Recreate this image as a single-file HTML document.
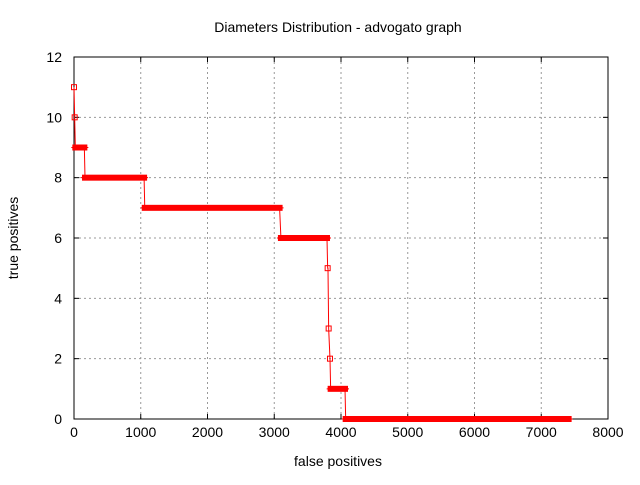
<!DOCTYPE html>
<html><head><meta charset="utf-8"><style>
body{margin:0;background:#fff}
svg text{font-family:"Liberation Sans",sans-serif;font-size:14px;fill:#000}
</style></head><body>
<svg id="c" width="640" height="480" xmlns="http://www.w3.org/2000/svg">
<rect width="640" height="480" fill="#fff"/>
<text x="338" y="32" text-anchor="middle">Diameters Distribution - advogato graph</text>
<text x="338" y="466" text-anchor="middle">false positives</text>
<text transform="translate(18,238) rotate(-90)" text-anchor="middle">true positives</text>
<g id="grid"></g><g id="axes"></g><g id="series"></g>
</svg>
<script>
const xTicks=[0,1000,2000,3000,4000,5000,6000,7000,8000];
const yTicks=[0,2,4,6,8,10,12];
const levels=[11,10,9,8,7,6,5,3,2,1,0];
const runStart=[0,10,20,165,1060,3100,3800,3815,3835,3845,4070];
const runEnd=[0,10,155,1050,3080,3790,3805,3815,3835,4060,7410];
const L=74,R=608,T=57,B=419;
const sx=v=>L+(v-0)/8000*(R-L);
const sy=v=>B-(v/12)*(B-T);
const NS="http://www.w3.org/2000/svg";
function mk(tag,at,par){const e=document.createElementNS(NS,tag);for(const k in at)e.setAttribute(k,at[k]);par.appendChild(e);return e;}
const grid=document.getElementById('grid'),axes=document.getElementById('axes'),ser=document.getElementById('series');
xTicks.forEach(t=>{
 const x=sx(t);
 if(t>0&&t<8000){const g=mk('line',{x1:x,x2:x,y1:T,y2:B,stroke:'#999','stroke-dasharray':'2,3'},grid);
 
 }
 mk('line',{x1:x,x2:x,y1:B,y2:B-5,stroke:'#000'},axes);
 mk('line',{x1:x,x2:x,y1:T,y2:T+5,stroke:'#000'},axes);
 const tx=mk('text',{x:x,y:B+18,'text-anchor':'middle'},axes);tx.textContent=t;
 
 
});
yTicks.forEach(t=>{
 const y=sy(t);
 if(t>0&&t<12){const g=mk('line',{x1:L,x2:R,y1:y,y2:y,stroke:'#999','stroke-dasharray':'2,3'},grid);
 
 }
 mk('line',{x1:L,x2:L+5,y1:y,y2:y,stroke:'#000'},axes);
 mk('line',{x1:R,x2:R-5,y1:y,y2:y,stroke:'#000'},axes);
 const tx=mk('text',{x:L-12,y:y+5,'text-anchor':'end'},axes);tx.textContent=t;
 
 
});
const fr=mk('rect',{x:L,y:T,width:R-L,height:B-T,fill:'none',stroke:'#000'},axes);


let pts=[];
levels.forEach((lv,i)=>{pts.push(sx(runStart[i])+','+sy(lv));pts.push(sx(runEnd[i])+','+sy(lv));});
const pl=mk('polyline',{points:pts.join(' '),fill:'none',stroke:'#f00','stroke-width':1},ser);


levels.forEach((lv,i)=>{
 const x0=sx(runStart[i]),x1=sx(runEnd[i]),y=sy(lv);
 if(x1-x0<2){
  const m=mk('rect',{x:x0-2.5,y:y-2.5,width:5,height:5,fill:'none',stroke:'#f00','stroke-width':1},ser);
  
  
 } else {
  const m=mk('rect',{x:x0-3,y:y-3,width:x1-x0+6,height:6,fill:'#f00'},ser);
  
  
  mk('line',{x1:x0-4,x2:x1+4,y1:y,y2:y,stroke:'#f00'},ser);
 }
});
</script>
</body></html>
